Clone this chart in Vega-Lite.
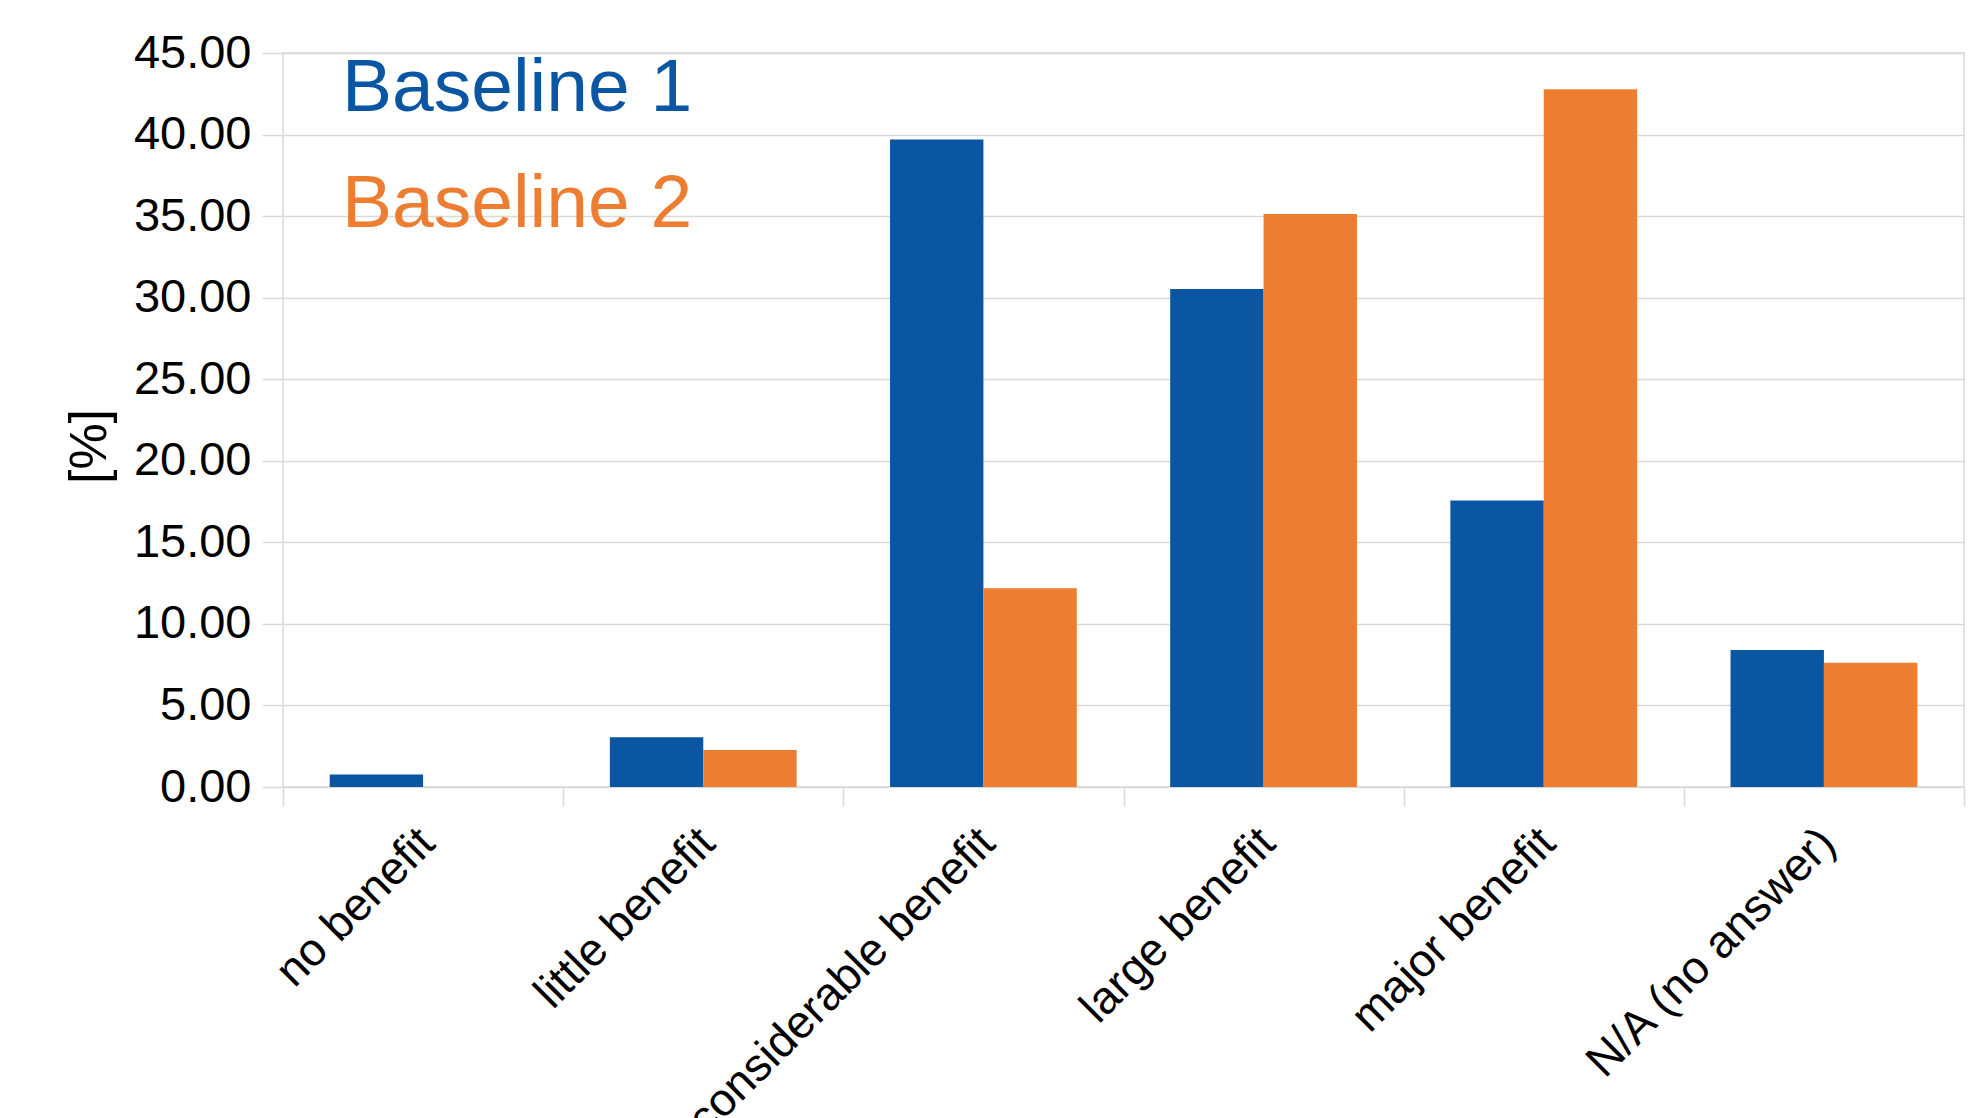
{
  "$schema": "https://vega.github.io/schema/vega-lite/v6.json",
  "autosize": "none",
  "width": 1681,
  "height": 734,
  "padding": {"left": 283, "top": 53, "right": 15, "bottom": 331},
  "background": "white",
  "config": {
    "font": "Liberation Sans",
    "view": {"stroke": "#d9d9d9", "strokeWidth": 1.5}
  },
  "data": {
    "values": [
      {"answer": "no benefit", "series": "Baseline 1", "percent": 0.76},
      {"answer": "no benefit", "series": "Baseline 2", "percent": 0},
      {"answer": "little benefit", "series": "Baseline 1", "percent": 3.05},
      {"answer": "little benefit", "series": "Baseline 2", "percent": 2.27},
      {"answer": "considerable benefit", "series": "Baseline 1", "percent": 39.69},
      {"answer": "considerable benefit", "series": "Baseline 2", "percent": 12.19},
      {"answer": "large benefit", "series": "Baseline 1", "percent": 30.53},
      {"answer": "large benefit", "series": "Baseline 2", "percent": 35.13},
      {"answer": "major benefit", "series": "Baseline 1", "percent": 17.56},
      {"answer": "major benefit", "series": "Baseline 2", "percent": 42.77},
      {"answer": "N/A (no answer)", "series": "Baseline 1", "percent": 8.40},
      {"answer": "N/A (no answer)", "series": "Baseline 2", "percent": 7.62}
    ]
  },
  "mark": {"type": "bar"},
  "encoding": {
    "x": {
      "field": "answer",
      "type": "nominal",
      "sort": ["no benefit", "little benefit", "considerable benefit", "large benefit", "major benefit", "N/A (no answer)"],
      "scale": {"paddingInner": 0, "paddingOuter": 0},
      "axis": {
        "title": null,
        "labelAngle": -45,
        "labelFontSize": 46,
        "labelColor": "black",
        "labelPadding": 14,
        "labelOffset": -12,
        "labelLimit": 0,
        "tickBand": "extent",
        "tickSize": 19,
        "tickColor": "#d9d9d9",
        "tickWidth": 1.5,
        "domain": false,
        "grid": false
      }
    },
    "xOffset": {
      "field": "series",
      "type": "nominal",
      "sort": ["Baseline 1", "Baseline 2"],
      "scale": {"paddingInner": 0, "paddingOuter": 0.5}
    },
    "y": {
      "field": "percent",
      "type": "quantitative",
      "scale": {"domain": [0, 45], "nice": false},
      "axis": {
        "title": "[%]",
        "values": [0, 5, 10, 15, 20, 25, 30, 35, 40, 45],
        "format": ".2f",
        "labelFontSize": 47,
        "labelColor": "black",
        "labelPadding": 11,
        "tickSize": 21,
        "tickColor": "#d9d9d9",
        "tickWidth": 1.5,
        "domain": false,
        "gridColor": "#d9d9d9",
        "gridWidth": 1.5,
        "titleFontSize": 52,
        "titleFontWeight": "normal",
        "titleColor": "black",
        "titleX": -167,
        "titleY": 393
      }
    },
    "color": {
      "field": "series",
      "type": "nominal",
      "scale": {"domain": ["Baseline 1", "Baseline 2"], "range": ["#0B56A3", "#ED7D31"]},
      "legend": {
        "orient": "none",
        "legendX": -16,
        "legendY": -3,
        "title": null,
        "symbolOpacity": 0,
        "symbolStrokeWidth": 0,
        "symbolSize": 0,
        "labelFontSize": 75,
        "labelOffset": 0,
        "labelLimit": 0,
        "rowPadding": 40,
        "padding": 0,
        "encode": {"labels": {"update": {"fill": {"scale": "color", "field": "value"}}}}
      }
    }
  }
}
